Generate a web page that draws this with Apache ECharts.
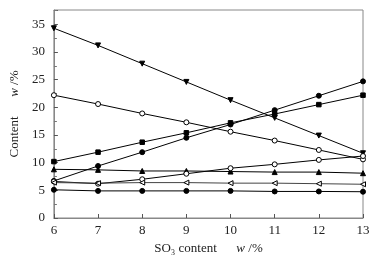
<!DOCTYPE html>
<html lang="en">
<head>
    <meta http-equiv="Content-Type" content="text/html; charset=UTF-8">
    <title>Content vs SO3</title>
    <script type="text/javascript" src="https://cdn.jsdelivr.net/npm/echarts@6/dist/echarts.min.js"></script>
</head>
<body style="margin:0; width:390px; height:262px; background:#fff">
<div id="main" style="width:390px; height:262px"></div>
<script type="text/javascript">
    // SO3 content, w/%
    var so3 = [6, 7, 8, 9, 10, 11, 12, 13];

    var downTri   = [34.3, 31.2, 27.9, 24.6, 21.3, 18.1, 14.9, 11.7];
    var openUpper = [22.2, 20.6, 18.9, 17.3, 15.6, 14.0, 12.3, 10.6];
    var square    = [10.2, 11.9, 13.7, 15.4, 17.2, 18.8, 20.5, 22.2];
    var dotRise   = [6.7, 9.4, 11.9, 14.5, 16.9, 19.5, 22.1, 24.7];
    var upTri     = [8.8, 8.7, 8.5, 8.5, 8.4, 8.3, 8.3, 8.1];
    var openLower = [6.6, 6.2, 7.0, 8.0, 9.0, 9.7, 10.5, 11.2];
    var leftTri   = [6.4, 6.3, 6.4, 6.4, 6.3, 6.3, 6.2, 6.1];
    var dotFlat   = [5.1, 4.9, 4.9, 4.9, 4.9, 4.8, 4.8, 4.75];

    var yTicks = [0, 5, 10, 15, 20, 25, 30, 35];

    function pairs(arr) {
        return arr.map(function (v, i) { return [so3[i], v]; });
    }

    var font = 'Liberation Serif';

    function line(data, symbol, rotate, open, color) {
        return {
            type: 'line',
            data: pairs(data),
            symbol: symbol,
            symbolSize: symbol === 'rect' ? 4.5 : 5,
            symbolRotate: rotate,
            lineStyle: { color: color || '#000', width: 1 },
            itemStyle: {
                color: open ? '#fff' : '#000',
                borderColor: '#000',
                borderWidth: 1
            },
            animation: false
        };
    }

    var myChart = echarts.init(document.getElementById('main'));

    myChart.setOption({
        backgroundColor: '#fff',
        grid: {
            left: 47, right: 27, top: 10, bottom: 44,
            show: true, borderColor: '#888', borderWidth: 1
        },
        xAxis: {
            type: 'value',
            min: 6, max: 13, interval: 1,
            name: '{t|SO₃ content      }{i|w}{t| /%}',
            nameLocation: 'middle',
            nameGap: 21,
            nameTextStyle: {
                rich: {
                    t: { fontFamily: font, fontSize: 13, color: '#222' },
                    i: { fontFamily: font, fontSize: 13, color: '#222', fontStyle: 'italic' }
                }
            },
            axisLine: { lineStyle: { color: '#888' } },
            axisTick: { inside: true, length: 4, lineStyle: { color: '#555' } },
            axisLabel: { fontFamily: font, fontSize: 13, color: '#222', margin: 6 },
            splitLine: { show: false }
        },
        yAxis: {
            type: 'value',
            min: 0, max: 37.6, interval: 5,
            name: '{t|Content      }{i|w}{t| /%}',
            nameLocation: 'middle',
            nameGap: 27,
            nameTextStyle: {
                rich: {
                    t: { fontFamily: font, fontSize: 13, color: '#222' },
                    i: { fontFamily: font, fontSize: 13, color: '#222', fontStyle: 'italic' }
                }
            },
            axisLine: { show: true, lineStyle: { color: '#888' } },
            axisTick: { inside: true, length: 4, lineStyle: { color: '#555' } },
            minorTick: { show: true, splitNumber: 2, length: 3, lineStyle: { color: '#777' } },
            axisLabel: {
                fontFamily: font, fontSize: 13, color: '#222', margin: 9,
                showMaxLabel: false,
                formatter: function (v) { return yTicks.indexOf(v) >= 0 ? String(v) : ''; }
            },
            splitLine: { show: false }
        },
        series: [
            line(downTri, 'triangle', 180, false),
            line(openUpper, 'circle', 0, true),
            line(square, 'rect', 0, false),
            line(dotRise, 'circle', 0, false),
            line(upTri, 'triangle', 0, false),
            line(openLower, 'circle', 0, true),
            line(leftTri, 'triangle', 90, true, '#444'),
            line(dotFlat, 'circle', 0, false)
        ]
    });
</script>
</body>
</html>
